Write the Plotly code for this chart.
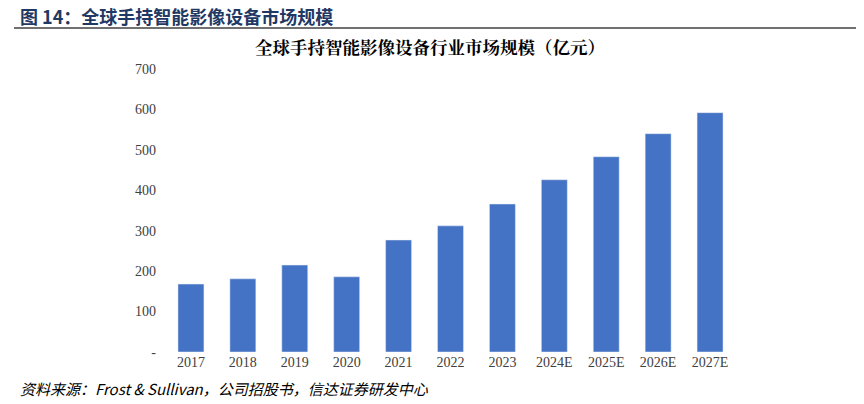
import plotly.graph_objects as go

categories = ["2017","2018","2019","2020","2021","2022","2023","2024E","2025E","2026E","2027E"]
values = [168, 181, 215, 186, 277, 312, 366, 426, 483, 540, 592]
tick_vals = [0,100,200,300,400,500,600,700]
tick_text = ["-","100","200","300","400","500","600","700"]

W, H = 864, 404
OFF = 8  # page body margin
l, r, t, b = 157, 136, 61, 60
pw, ph = W-l-r, H-t-b
def px(x): return (x-OFF-l)/pw
def py(y): return (H-b-(y-OFF))/ph

fig = go.Figure(go.Bar(x=categories, y=values, marker_color="#4472C4", width=0.5))
fig.update_layout(
    width=W, height=H, paper_bgcolor="white", plot_bgcolor="white",
    margin=dict(l=l, r=r, t=t, b=b),
    showlegend=False,
    font=dict(family="Liberation Serif", color="#404040", size=14),
    xaxis=dict(showline=False, ticks="", tickfont=dict(size=14, family="Liberation Serif")),
    yaxis=dict(range=[0,700], tickvals=tick_vals, ticktext=tick_text, showgrid=False,
               zeroline=False, ticks="", tickfont=dict(size=14, family="Liberation Serif"), ticklabelstandoff=8),
    annotations=[
        dict(text="<b>图 14：全球手持智能影像设备市场规模</b>", x=px(18), y=py(16), xref="paper", yref="paper",
             xanchor="left", yanchor="middle", showarrow=False,
             font=dict(size=18, color="#1F3864", family="Noto Sans CJK SC")),
        dict(text="<b>全球手持智能影像设备行业市场规模（亿元）</b>", x=px(430), y=py(47), xref="paper", yref="paper",
             xanchor="center", yanchor="middle", showarrow=False,
             font=dict(size=17.5, color="#000000", family="Noto Serif CJK SC, Noto Sans CJK SC")),
        dict(text="<i>资料来源：Frost &amp; Sullivan，公司招股书，信达证券研发中心</i>", x=px(18), y=py(388),
             xref="paper", yref="paper", showarrow=False, xanchor="left", yanchor="middle",
             font=dict(size=15, color="#000000", family="Noto Sans CJK SC")),
    ],
    shapes=[dict(type="line", xref="paper", yref="paper", x0=px(14), x1=px(858), y0=py(28), y1=py(28),
                 line=dict(color="#404040", width=1.5))],
)
fig.write_html("out.html")
